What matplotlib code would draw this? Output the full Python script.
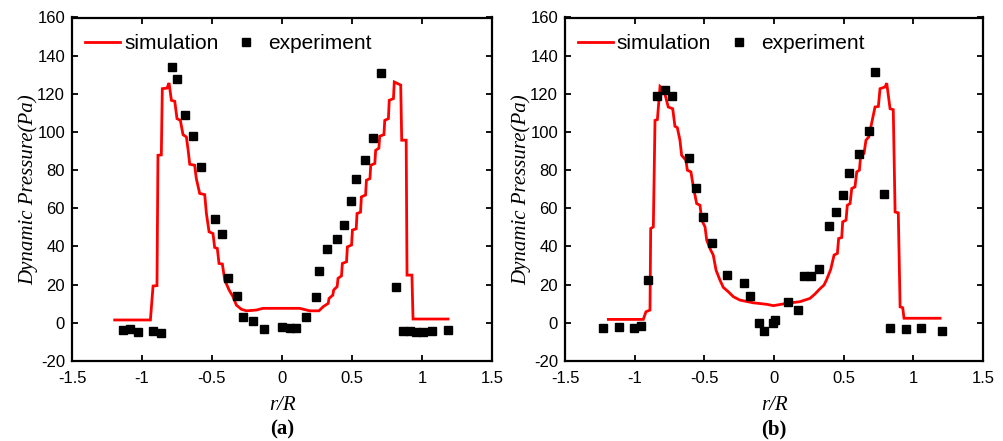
import matplotlib
matplotlib.use("Agg")
import matplotlib.pyplot as plt

plt.rcParams['font.family'] = ['Liberation Sans', 'DejaVu Sans']
plt.rcParams['axes.unicode_minus'] = False

# ---------------- data ----------------
sim_a_x = [-1.195, -0.940, -0.921, -0.893, -0.886, -0.862, -0.855, -0.821, -0.807, -0.790, -0.766, -0.750,
           -0.726, -0.707, -0.683, -0.671, -0.659, -0.624, -0.612, -0.588, -0.552, -0.540, -0.521, -0.493,
           -0.481, -0.462, -0.450, -0.426, -0.409, -0.378, -0.350, -0.326, -0.290, -0.254, -0.183, -0.136,
           0.126, 0.198, 0.264, 0.293, 0.330, 0.336, 0.363, 0.369, 0.394, 0.400, 0.425, 0.431, 0.461, 0.467,
           0.497, 0.503, 0.530, 0.536, 0.561, 0.567, 0.597, 0.603, 0.628, 0.634, 0.663, 0.669, 0.692, 0.698,
           0.728, 0.734, 0.760, 0.766, 0.796, 0.802, 0.848, 0.855, 0.887, 0.893, 0.928, 0.936, 1.186]
sim_a_y = [1.5, 1.5, 19.3, 19.5, 87.8, 88.0, 122.7, 123.0, 125.7, 116.6, 116.1, 107.0,
           106.1, 98.6, 97.4, 90.8, 83.1, 82.6, 75.6, 67.8, 67.2, 57.3, 47.7, 46.8,
           39.5, 39.0, 31.1, 30.8, 22.4, 17.2, 13.7, 9.3, 7.1, 6.3, 6.7, 7.6,
           7.6, 6.3, 6.3, 8.4, 10.2, 12.8, 14.5, 17.2, 19.0, 23.3, 24.6, 31.1, 32.0, 39.8,
           40.8, 48.6, 49.3, 57.3, 58.0, 66.0, 67.0, 74.7, 75.6, 82.6, 83.5, 90.4, 91.5, 97.8,
           98.6, 106.1, 107.0, 116.6, 117.5, 126.2, 124.6, 95.7, 95.7, 25.0, 25.0, 2.0, 2.0]

exp_a_x = [-1.136, -1.088, -1.029, -0.921, -0.866, -0.783, -0.750, -0.695, -0.633, -0.576, -0.481, -0.431,
           -0.383, -0.324, -0.279, -0.209, -0.126, 0.003, 0.055, 0.102, 0.169, 0.241, 0.262, 0.324, 0.391,
           0.441, 0.491, 0.529, 0.596, 0.653, 0.705, 0.812, 0.864, 0.912, 0.959, 1.007, 1.071, 1.184]
exp_a_y = [-3.8, -3.4, -4.8, -4.1, -5.2, 134.0, 127.9, 109.1, 98.1, 81.4, 54.3, 46.8,
           23.3, 13.9, 2.9, 0.9, -3.4, -2.0, -2.9, -2.9, 2.9, 13.7, 27.3, 38.5, 43.7,
           51.5, 63.6, 75.4, 85.5, 96.9, 130.9, 18.6, -4.3, -4.3, -4.6, -4.6, -4.3, -3.8]

sim_b_x = [-1.189, -0.938, -0.919, -0.890, -0.885, -0.866, -0.854, -0.837, -0.818, -0.799, -0.782, -0.759,
           -0.727, -0.711, -0.694, -0.675, -0.663, -0.632, -0.622, -0.596, -0.579, -0.555, -0.531, -0.519,
           -0.495, -0.483, -0.454, -0.436, -0.416, -0.388, -0.364, -0.328, -0.292, -0.244, -0.149, -0.052,
           -0.005, 0.091, 0.187, 0.258, 0.294, 0.325, 0.359, 0.378, 0.407, 0.431, 0.455, 0.464, 0.486,
           0.493, 0.517, 0.526, 0.546, 0.558, 0.581, 0.594, 0.613, 0.622, 0.646, 0.660, 0.680, 0.701,
           0.725, 0.749, 0.761, 0.797, 0.809, 0.833, 0.856, 0.869, 0.892, 0.905, 0.924, 0.933, 1.192]
sim_b_y = [1.8, 1.8, 5.8, 6.7, 49.4, 50.3, 106.1, 106.5, 123.9, 122.7, 119.6, 113.1,
           112.2, 103.0, 102.3, 95.7, 87.8, 85.2, 80.0, 79.1, 71.2, 62.5, 61.6, 53.8,
           50.3, 43.3, 38.1, 35.5, 27.6, 22.4, 18.6, 16.3, 13.7, 11.9, 10.5, 9.7,
           9.0, 10.2, 11.1, 12.8, 15.1, 17.5, 19.8, 22.7, 28.0, 35.5, 36.4, 44.2, 44.7,
           52.9, 53.8, 61.6, 62.5, 70.4, 71.2, 79.1, 80.0, 87.8, 88.7, 95.7, 97.4, 104.7,
           113.1, 113.4, 122.7, 123.6, 125.6, 112.2, 111.7, 58.1, 57.6, 8.4, 7.9, 2.4, 2.4]

exp_b_x = [-1.225, -1.113, -1.003, -0.955, -0.902, -0.842, -0.780, -0.730, -0.610, -0.560, -0.507, -0.447,
           -0.340, -0.213, -0.172, -0.105, -0.070, -0.010, 0.010, 0.103, 0.172, 0.215, 0.265, 0.320,
           0.395, 0.445, 0.493, 0.541, 0.610, 0.684, 0.725, 0.790, 0.833, 0.945, 1.055, 1.204]
exp_b_y = [-2.9, -2.4, -2.9, -1.5, 22.4, 118.7, 121.8, 118.7, 86.4, 70.9, 55.5, 41.6,
           25.0, 21.0, 14.0, 0.0, -4.1, 0.0, 1.5, 11.0, 6.7, 24.6, 24.6, 28.2,
           50.8, 58.1, 67.0, 78.5, 88.7, 100.4, 131.4, 67.4, -2.5, -3.1, -2.9, -4.1]

x_ticks = [-1.5, -1, -0.5, 0, 0.5, 1, 1.5]
x_tick_labels = ['-1.5', '-1', '-0.5', '0', '0.5', '1', '1.5']
y_ticks = [-20, 0, 20, 40, 60, 80, 100, 120, 140, 160]
y_tick_labels = ['-20', '0', '20', '40', '60', '80', '100', '120', '140', '160']
panel_labels = ['(a)', '(b)']

# ---------------- figure ----------------
fig = plt.figure(figsize=(10.04, 4.41), dpi=100)
W, H = 1004, 441
ax_a = fig.add_axes([72 / W, 1 - 361 / H, 420 / W, 343.5 / H])
ax_b = fig.add_axes([565 / W, 1 - 361 / H, 418 / W, 343.5 / H])

serif = ['Liberation Serif', 'DejaVu Serif']

for ax, sx, sy, ex, ey, lab in [(ax_a, sim_a_x, sim_a_y, exp_a_x, exp_a_y, panel_labels[0]),
                                (ax_b, sim_b_x, sim_b_y, exp_b_x, exp_b_y, panel_labels[1])]:
    ax.plot(sx, sy, color='#ff0000', lw=2.0, label='simulation', solid_joinstyle='miter')
    ax.plot(ex, ey, ls='none', marker='s', ms=6, color='black', label='experiment')
    ax.set_xlim(-1.5, 1.5)
    ax.set_ylim(-20, 160)
    ax.set_xticks(x_ticks)
    ax.set_xticklabels(x_tick_labels)
    ax.set_yticks(y_ticks)
    ax.set_yticklabels(y_tick_labels)
    ax.tick_params(direction='in', length=4, width=1.3, top=True, right=True,
                   labelsize=12, colors='black')
    ax.tick_params(axis='x', pad=7)
    ax.tick_params(axis='y', pad=5)
    for sp in ax.spines.values():
        sp.set_linewidth(1.6)
    ax.set_ylabel('Dynamic Pressure(Pa)', fontsize=15, family=serif, style='italic', labelpad=-1)
    ax.text(0.5, -(405 - 361) / 343.5, 'r/R', transform=ax.transAxes, ha='center', va='center',
            fontsize=15, family=serif, style='italic')
    ax.text(0.5, -(429 - 361) / 343.5, lab, transform=ax.transAxes, ha='center', va='center',
            fontsize=15, family=serif, weight='bold')
    ax.legend(loc='center left', bbox_to_anchor=(13 / 420, (361 - 43.3) / 343.5), ncol=2,
              frameon=False, fontsize=15, handlelength=1.67, handletextpad=0.2,
              columnspacing=0.5, borderpad=0, borderaxespad=0, numpoints=1)

fig.savefig('out.png', dpi=100)
